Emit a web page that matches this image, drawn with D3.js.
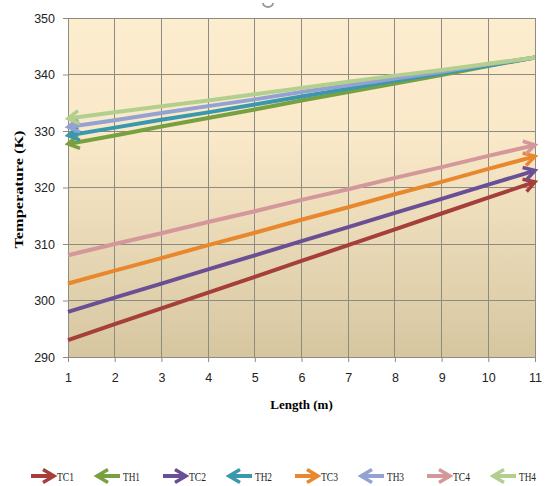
<!DOCTYPE html>
<html><head><meta charset="utf-8">
<script src="https://cdn.jsdelivr.net/npm/d3@7"></script>
<style>body{margin:0;background:#fff}svg{display:block}</style>
</head><body>
<script>
const lengths = [1,2,3,4,5,6,7,8,9,10,11];
const seriesNames = ["TC1","TH1","TC2","TH2","TC3","TH3","TC4","TH4"];
const TC1 = [293,295.8,298.6,301.4,304.2,307,309.8,312.6,315.4,318.2,321];
const TH1 = [327.7,329.2,330.8,332.3,333.8,335.4,336.9,338.4,339.9,341.5,343];
const TC2 = [298,300.5,303,305.5,308,310.5,313,315.5,318,320.5,323];
const TH2 = [329.2,330.6,332,333.3,334.7,336.1,337.5,338.9,340.2,341.6,343];
const TC3 = [303,305.3,307.5,309.8,312,314.3,316.5,318.8,321,323.3,325.5];
const TH3 = [330.7,331.9,333.2,334.4,335.6,336.9,338.1,339.3,340.5,341.8,343];
const TC4 = [308,310,311.9,313.9,315.8,317.8,319.7,321.7,323.6,325.6,327.5];
const TH4 = [332.2,333.3,334.4,335.4,336.5,337.6,338.7,339.8,340.8,341.9,343];
const seriesValues = [TC1,TH1,TC2,TH2,TC3,TH3,TC4,TH4];
const colors = ["#a63f3c","#78a040","#6b4f95","#3a98ae","#e8882e","#93a2d2","#d4979a","#b3cf8e"];
const xTicks = [1,2,3,4,5,6,7,8,9,10,11];
const yTicks = [290,300,310,320,330,340,350];

const W=547,H=486;
const m={left:68,right:535,top:18,bottom:357};
const svg=d3.select("body").append("svg").attr("width",W).attr("height",H);
const x=d3.scaleLinear().domain([1,11]).range([m.left,m.right]);
const y=d3.scaleLinear().domain([290,350]).range([m.bottom,m.top]);

const defs=svg.append("defs");
const g=defs.append("linearGradient").attr("id","bg").attr("x1",0).attr("y1",0).attr("x2",0).attr("y2",1);
g.append("stop").attr("offset","0%").attr("stop-color","#fdedcf");
g.append("stop").attr("offset","35%").attr("stop-color","#f9e9c9");
g.append("stop").attr("offset","100%").attr("stop-color","#d6c6a0");

seriesNames.forEach((n,i)=>{
  defs.append("marker").attr("id","arr"+i).attr("markerUnits","userSpaceOnUse")
    .attr("viewBox","-14 -9 18 18").attr("refX",0).attr("refY",0)
    .attr("markerWidth",18).attr("markerHeight",18).attr("orient","auto")
    .append("path").attr("d","M-11,-6.5 L0,0 L-11,6.5").attr("fill","none")
    .attr("stroke",colors[i]).attr("stroke-width",3.5).attr("stroke-linejoin","miter");
});

svg.append("rect").attr("x",m.left).attr("y",m.top).attr("width",m.right-m.left).attr("height",m.bottom-m.top).attr("fill","url(#bg)");

// grid
const grid=svg.append("g").attr("stroke","#8e8b80").attr("stroke-width",1).attr("shape-rendering","crispEdges");
xTicks.forEach(t=>grid.append("line").attr("x1",x(t)).attr("x2",x(t)).attr("y1",m.top).attr("y2",m.bottom));
yTicks.forEach(t=>grid.append("line").attr("x1",m.left).attr("x2",m.right).attr("y1",y(t)).attr("y2",y(t)));

// axes
const yAxis=svg.append("g").attr("transform",`translate(${m.left},0)`)
  .call(d3.axisLeft(y).tickValues(yTicks).tickSize(5).tickPadding(8).tickFormat(d3.format("d")));
const xAxis=svg.append("g").attr("transform",`translate(0,${m.bottom})`)
  .call(d3.axisBottom(x).tickValues(xTicks).tickSize(5).tickPadding(11).tickFormat(d3.format("d")));
[yAxis,xAxis].forEach(a=>{
  a.select(".domain").attr("stroke","#8e8b80");
  a.selectAll(".tick line").attr("stroke","#8e8b80");
  a.selectAll("text").attr("font-family","Liberation Sans, Arial, sans-serif").attr("font-size",12.5).attr("fill","#222");
});

// lines
const line=d3.line().x(d=>x(d[0])).y(d=>y(d[1]));
seriesNames.forEach((n,i)=>{
  let pts=lengths.map((l,j)=>[l,seriesValues[i][j]]);
  if(n.startsWith("TH")) pts=pts.slice().reverse();
  svg.append("path").attr("d",line(pts)).attr("fill","none").attr("stroke",colors[i])
    .attr("stroke-width",4).attr("marker-end",`url(#arr${i})`);
});

// titles
svg.append("text").attr("transform",`translate(23,${(m.top+m.bottom)/2+2}) rotate(-90)`)
  .attr("text-anchor","middle").attr("font-family","Liberation Serif, Times New Roman, serif")
  .attr("font-weight","bold").attr("font-size",13).attr("textLength",118).attr("lengthAdjust","spacingAndGlyphs")
  .text("Temperature (K)");
svg.append("text").attr("x",(m.left+m.right)/2).attr("y",409).attr("text-anchor","middle")
  .attr("font-family","Liberation Serif, Times New Roman, serif").attr("font-weight","bold").attr("font-size",13)
  .text("Length (m)");

// small artifact at top
svg.append("path").attr("d","M263,3 A5,4 0 0 0 273,3").attr("fill","none").attr("stroke","#9a9a9a").attr("stroke-width",2);

// legend
const leg=svg.append("g");
seriesNames.forEach((n,i)=>{
  const lx=31+i*66, ly=476;
  const a = n.startsWith("TC") ? [[lx,ly],[lx+23,ly]] : [[lx+23,ly],[lx,ly]];
  leg.append("path").attr("d",d3.line()(a)).attr("stroke",colors[i]).attr("stroke-width",4)
    .attr("fill","none").attr("marker-end",`url(#arr${i})`);
  leg.append("text").attr("x",lx+26).attr("y",ly+4.5).attr("font-family","Liberation Serif, Times New Roman, serif")
    .attr("font-size",13).attr("textLength",17).attr("lengthAdjust","spacingAndGlyphs").attr("fill","#222").text(n);
});
</script>
</body></html>
